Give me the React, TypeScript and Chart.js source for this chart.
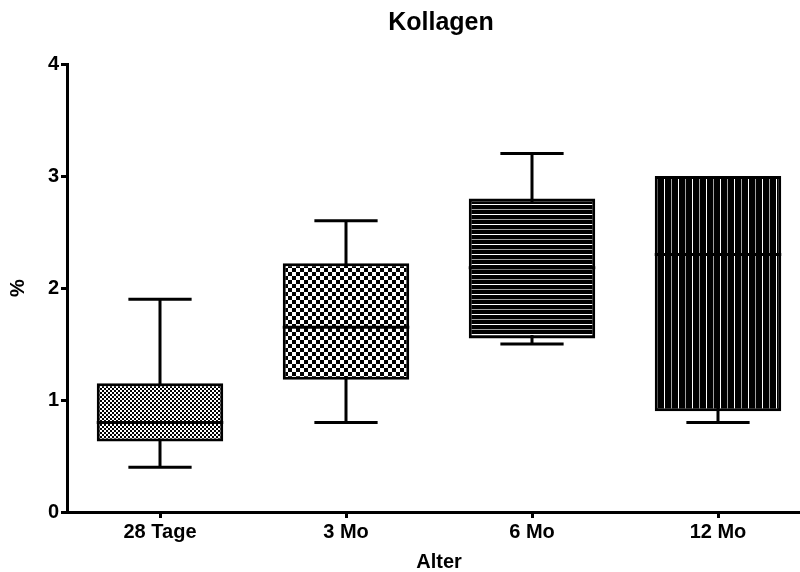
import React, { useEffect, useRef } from "react";
import { Chart, registerables } from "chart.js";

Chart.register(...registerables);

const title = "Kollagen";
const xTitle = "Alter";
const yTitle = "%";
const categories = ["28 Tage", "3 Mo", "6 Mo", "12 Mo"];
const whiskerMin = [0.4, 0.8, 1.5, 0.8];
const q1 = [0.63, 1.18, 1.55, 0.9];
const median = [0.8, 1.65, 2.18, 2.3];
const q3 = [1.15, 2.22, 2.8, 3.0];
const whiskerMax = [1.9, 2.6, 3.2, 3.0];
const yTickValues = [0, 1, 2, 3, 4];

const FONT = "Arial, 'Liberation Sans', sans-serif";

function makePattern(kind: string): CanvasPattern | string {
  const c = document.createElement("canvas");
  const g = c.getContext("2d")!;
  if (kind === "fine") {
    c.width = 4; c.height = 4;
    g.fillStyle = "#fff"; g.fillRect(0, 0, 4, 4);
    g.fillStyle = "#000";
    g.fillRect(0, 0, 2, 2); g.fillRect(2, 2, 2, 2);
  } else if (kind === "checker") {
    c.width = 8; c.height = 8;
    g.fillStyle = "#fff"; g.fillRect(0, 0, 8, 8);
    g.fillStyle = "#000";
    g.fillRect(0, 0, 4, 4); g.fillRect(4, 4, 4, 4);
  } else if (kind === "hlines") {
    c.width = 4; c.height = 10;
    g.fillStyle = "#000"; g.fillRect(0, 0, 4, 10);
    g.fillStyle = "#fff"; g.fillRect(0, 4, 4, 1);
    g.fillStyle = "#a0a0a0"; g.fillRect(0, 9, 4, 1);
  } else {
    c.width = 14; c.height = 4;
    g.fillStyle = "#000"; g.fillRect(0, 0, 14, 4);
    g.fillStyle = "#fff"; g.fillRect(6, 0, 1, 4);
    g.fillStyle = "#a0a0a0"; g.fillRect(13, 0, 1, 4);
  }
  const main = document.createElement("canvas").getContext("2d")!;
  return main.createPattern(c, "repeat") || "#888";
}

const patternKinds = ["fine", "checker", "hlines", "vlines"];

export default function App() {
  const ref = useRef<HTMLCanvasElement | null>(null);

  useEffect(() => {
    document.body.style.margin = "0";
    const canvas = ref.current!;
    const patterns = patternKinds.map(makePattern);

    const boxPlugin = {
      id: "boxExtras",
      beforeDatasetsDraw(chart: any) {
        const meta = chart.getDatasetMeta(0);
        const ys = chart.scales.y;
        const ctx = chart.ctx;
        ctx.save();
        ctx.strokeStyle = "#000";
        ctx.lineWidth = 3;
        ctx.lineCap = "butt";
        meta.data.forEach((el: any, i: number) => {
          const x = el.x;
          const w = el.width;
          const yTop = ys.getPixelForValue(whiskerMax[i]);
          const yBot = ys.getPixelForValue(whiskerMin[i]);
          ctx.beginPath();
          ctx.moveTo(x, yTop);
          ctx.lineTo(x, yBot);
          if (whiskerMax[i] > q3[i]) {
            ctx.moveTo(x - w / 4, yTop);
            ctx.lineTo(x + w / 4, yTop);
          }
          if (whiskerMin[i] < q1[i]) {
            ctx.moveTo(x - w / 4, yBot);
            ctx.lineTo(x + w / 4, yBot);
          }
          ctx.stroke();
        });
        ctx.restore();
      },
      afterDatasetsDraw(chart: any) {
        const meta = chart.getDatasetMeta(0);
        const ys = chart.scales.y;
        const ctx = chart.ctx;
        ctx.save();
        ctx.strokeStyle = "#000";
        ctx.lineWidth = 3;
        meta.data.forEach((el: any, i: number) => {
          const x = el.x;
          const w = el.width;
          const ym = ys.getPixelForValue(median[i]);
          ctx.beginPath();
          ctx.moveTo(x - w / 2, ym);
          ctx.lineTo(x + w / 2, ym);
          ctx.stroke();
        });
        ctx.restore();
      },
      afterDraw(chart: any) {
        const ctx = chart.ctx;
        const a = chart.chartArea;
        ctx.save();
        ctx.fillStyle = "#000";
        ctx.font = "bold 25px " + FONT;
        ctx.textAlign = "center";
        ctx.textBaseline = "middle";
        ctx.fillText(title, (a.left + a.right) / 2 + 2, 23);
        ctx.restore();
      },
    };

    const chart = new Chart(canvas, {
      type: "bar",
      data: {
        labels: categories,
        datasets: [
          {
            data: categories.map((_, i) => [q1[i], q3[i]]) as any,
            backgroundColor: patterns as any,
            borderColor: "#000",
            borderWidth: 3,
            borderSkipped: false,
            barPercentage: 0.68,
            categoryPercentage: 1,
          },
        ],
      },
      options: {
        animation: false,
        responsive: false,
        maintainAspectRatio: false,
        layout: { padding: { top: 64, right: 0, left: 0, bottom: 0 } },
        plugins: {
          legend: { display: false },
          tooltip: { enabled: false },
          title: { display: false },
        },
        scales: {
          x: {
            type: "category",
            offset: true,
            afterFit(scale: any) { scale.height = 60; },
            grid: {
              display: true,
              drawOnChartArea: false,
              offset: false,
              tickLength: 6,
              tickWidth: 3,
              color: "#000",
            },
            border: { display: true, width: 3, color: "#000" },
            ticks: {
              color: "#000",
              font: { family: FONT, size: 20, weight: "bold" },
              padding: 2,
              maxRotation: 0,
            },
            title: {
              display: true,
              text: xTitle,
              color: "#000",
              font: { family: FONT, size: 20, weight: "bold", lineHeight: 1 },
              padding: { top: 0, bottom: 0 },
            },
          },
          y: {
            type: "linear",
            min: 0,
            max: 4,
            afterFit(scale: any) { scale.width = 67; },
            afterBuildTicks(scale: any) {
              scale.ticks = yTickValues.map((v) => ({ value: v }));
            },
            grid: {
              display: true,
              drawOnChartArea: false,
              tickLength: 6,
              tickWidth: 3,
              color: "#000",
            },
            border: { display: true, width: 3, color: "#000" },
            ticks: {
              color: "#000",
              font: { family: FONT, size: 20, weight: "bold" },
              padding: 2,
              callback: (v: any) => String(v),
            },
            title: {
              display: true,
              text: yTitle,
              color: "#000",
              font: { family: FONT, size: 20, weight: "bold", lineHeight: 1 },
              padding: { top: 8, bottom: 0 },
            },
          },
        },
      } as any,
      plugins: [boxPlugin],
    });
    return () => chart.destroy();
  }, []);

  return (
    <div style={{ position: "absolute", left: 0, top: 0, width: 800, height: 572, overflow: "hidden" }}>
      <canvas ref={ref} width={811} height={572} style={{ display: "block" }} />
    </div>
  );
}
